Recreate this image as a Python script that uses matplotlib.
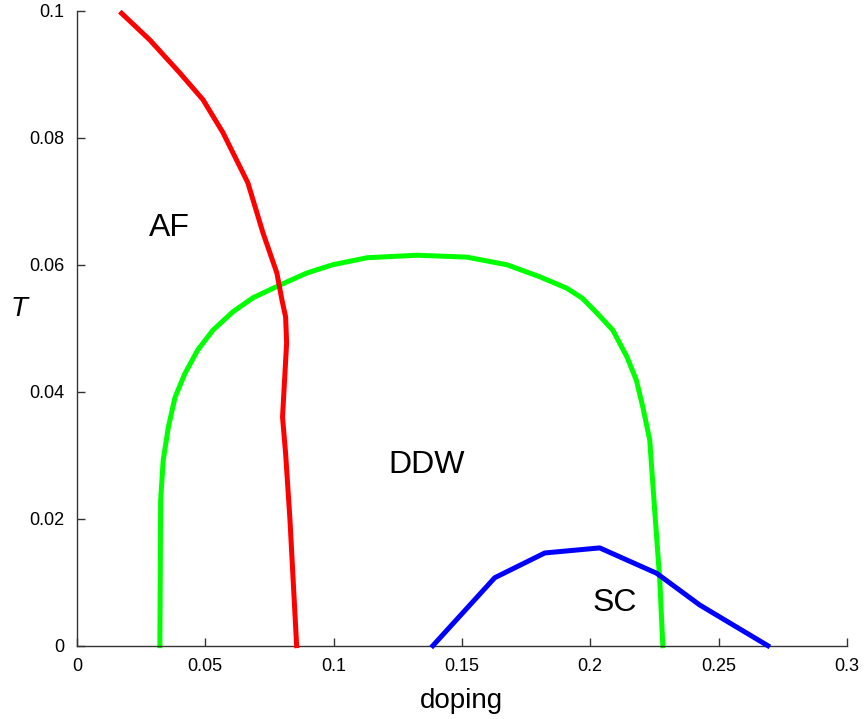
import matplotlib
matplotlib.use('Agg')
import matplotlib.pyplot as plt
from matplotlib.ticker import FuncFormatter

plt.rcParams['font.family'] = ['Liberation Sans', 'DejaVu Sans']

# AF boundary (red)
af_doping = [0.0174, 0.0284, 0.0401, 0.0491, 0.0569, 0.0666, 0.0725, 0.0779,
             0.0799, 0.0813, 0.0817, 0.0801, 0.0813, 0.0830, 0.0856]
af_T = [0.0996, 0.0954, 0.0902, 0.0860, 0.0808, 0.0729, 0.0650, 0.0587,
        0.0544, 0.0518, 0.0477, 0.0360, 0.0303, 0.0198, 0.0]

# DDW boundary (green)
ddw_doping = [0.0323, 0.0326, 0.0336, 0.0356, 0.0382, 0.0421, 0.0471, 0.0530,
              0.0608, 0.0686, 0.0791, 0.0896, 0.0997, 0.1130, 0.1325, 0.1519,
              0.1675, 0.1804, 0.1909, 0.1970, 0.2026, 0.2088, 0.2143, 0.2180,
              0.2205, 0.2232, 0.2252, 0.2271, 0.2283]
ddw_T = [0.0, 0.0229, 0.0292, 0.0344, 0.0391, 0.0429, 0.0466, 0.0497,
         0.0526, 0.0548, 0.0568, 0.0587, 0.0600, 0.0611, 0.0615, 0.0612,
         0.0600, 0.0581, 0.0563, 0.0547, 0.0524, 0.0497, 0.0455, 0.0418,
         0.0376, 0.0324, 0.0209, 0.0104, 0.0]

# SC dome (blue)
sc_doping = [0.1387, 0.1628, 0.1823, 0.2037, 0.2259, 0.2427, 0.2692]
sc_T = [0.0, 0.0107, 0.0146, 0.0154, 0.0114, 0.0064, 0.0]

xticks = [0, 0.05, 0.1, 0.15, 0.2, 0.25, 0.3]
yticks = [0, 0.02, 0.04, 0.06, 0.08, 0.1]

fig = plt.figure(figsize=(8.64, 7.19), dpi=100)
ax = fig.add_axes([0.0891, 0.102, 0.891, 0.883])

lw = 3.6
ax.plot(af_doping, af_T, color='#ff0000', lw=lw, clip_on=False, zorder=3)
ax.plot(ddw_doping, ddw_T, color='#00ff00', lw=lw, clip_on=False, zorder=2)
ax.plot(sc_doping, sc_T, color='#0000ff', lw=lw, clip_on=False, zorder=4)

ax.text(0.0362, 0.0658, 'AF', fontsize=23, ha='center', va='center')
ax.text(0.1363, 0.0285, 'DDW', fontsize=23, ha='center', va='center')
ax.text(0.2096, 0.0067, 'SC', fontsize=23, ha='center', va='center')

ax.set_xlim(0, 0.3)
ax.set_ylim(0, 0.1)
ax.set_xticks(xticks)
ax.set_yticks(yticks)
fmt = FuncFormatter(lambda v, pos: '%g' % round(v, 4))
ax.xaxis.set_major_formatter(fmt)
ax.yaxis.set_major_formatter(fmt)

for side in ['top', 'right']:
    ax.spines[side].set_visible(False)
for side in ['left', 'bottom']:
    ax.spines[side].set_color('#333333')
    ax.spines[side].set_linewidth(1.0)

ax.tick_params(direction='in', length=6, width=1, color='#333333',
               labelsize=13, pad=9)

ax.set_xlabel('doping', fontsize=20, labelpad=9)
ax.set_ylabel('T', fontsize=20, style='italic', rotation=0, labelpad=18)
ax.yaxis.set_label_coords(-0.075, 0.51)

fig.savefig('out.png', dpi=100)
